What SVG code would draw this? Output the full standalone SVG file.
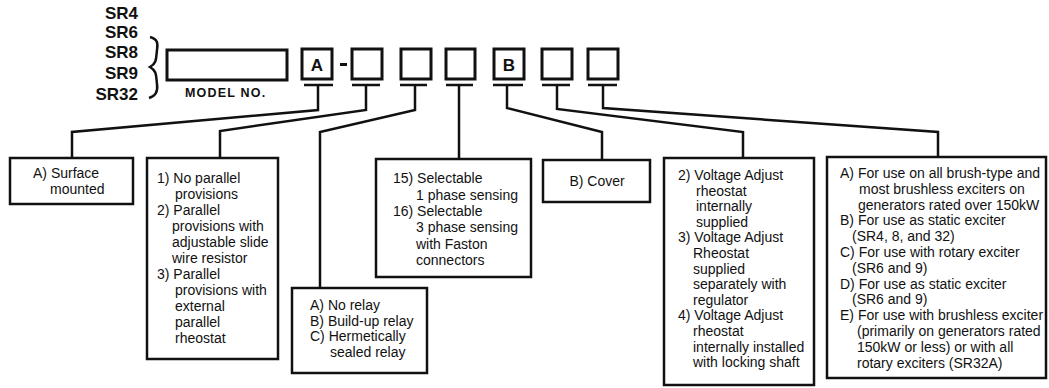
<svg xmlns="http://www.w3.org/2000/svg" width="1049" height="388" viewBox="0 0 1049 388">
<style>
  .bg{fill:#fff}
  .box{fill:#fff;stroke:#111;stroke-width:2.5}
  .sq{fill:#fff;stroke:#111;stroke-width:3}
  .ln{fill:none;stroke:#111;stroke-width:2.5;stroke-linejoin:miter}
  .t{font-family:"Liberation Sans",Arial,sans-serif;font-size:14px;fill:#111}
  .b{font-family:"Liberation Sans",Arial,sans-serif;font-weight:bold;fill:#111}
</style>
<rect class="bg" x="0" y="0" width="1049" height="388"/>

<g id="model-series">
  <text class="b" font-size="17" text-anchor="end" x="138" y="19">SR4</text>
  <text class="b" font-size="17" text-anchor="end" x="138" y="38">SR6</text>
  <text class="b" font-size="17" text-anchor="end" x="138" y="58">SR8</text>
  <text class="b" font-size="17" text-anchor="end" x="138" y="79">SR9</text>
  <text class="b" font-size="17" text-anchor="end" x="138" y="100">SR32</text>
  <path class="ln" d="M150,37 C158,39 158,44 157,50 C156,58 157,63 150,67 C157,71 156,76 157,84 C158,91 156,96 149,98"/>
</g>

<g id="model-no">
  <rect class="sq" x="167" y="50" width="120" height="30"/>
  <text class="b" font-size="12.5" letter-spacing="1.2" x="185" y="97">MODEL NO.</text>
</g>

<g id="codes">
  <rect class="sq" x="302" y="49" width="30" height="30"/>
  <text class="b" font-size="17" text-anchor="middle" x="317" y="71">A</text>
  <rect x="340" y="63" width="7" height="3" fill="#111"/>
  <rect class="sq" x="352" y="49" width="30" height="30"/>
  <rect class="sq" x="401" y="49" width="30" height="30"/>
  <rect class="sq" x="446" y="49" width="29" height="30"/>
  <rect class="sq" x="494" y="49" width="30" height="30"/>
  <text class="b" font-size="17" text-anchor="middle" x="509" y="71">B</text>
  <rect class="sq" x="542" y="49" width="30" height="30"/>
  <rect class="sq" x="588" y="49" width="30" height="30"/>
</g>

<g id="connectors">
  <path class="ln" d="M304,85 H333 M318,85 V110 L72,132 V158"/>
  <path class="ln" d="M352,85 H380 M366,85 V110 L220,131 V158"/>
  <path class="ln" d="M400,85 H427 M415,85 V110 L320,132 V288"/>
  <path class="ln" d="M446,85 H473 M459,85 V159"/>
  <path class="ln" d="M493,85 H523 M507,85 V108 L602,132 V160"/>
  <path class="ln" d="M542,85 H570 M557,85 V109 L743,132 V158"/>
  <path class="ln" d="M588,85 H617 M603,85 V108 L938,132 V157"/>
</g>

<g id="mounting">
  <rect class="box" x="10" y="158" width="123" height="46"/>
  <text class="t" x="33" y="178">A) Surface</text>
  <text class="t" x="50" y="194">mounted</text>
</g>

<g id="parallel">
  <rect class="box" x="147" y="158" width="131" height="201"/>
  <text class="t" x="157" y="183">1) No parallel</text>
  <text class="t" x="175" y="199">provisions</text>
  <text class="t" x="157" y="215">2) Parallel</text>
  <text class="t" x="172" y="231">provisions with</text>
  <text class="t" x="172" y="247">adjustable slide</text>
  <text class="t" x="172" y="263">wire resistor</text>
  <text class="t" x="157" y="279">3) Parallel</text>
  <text class="t" x="175" y="295">provisions with</text>
  <text class="t" x="175" y="311">external</text>
  <text class="t" x="175" y="327">parallel</text>
  <text class="t" x="175" y="343">rheostat</text>
</g>

<g id="relay">
  <rect class="box" x="292" y="288" width="135" height="85"/>
  <text class="t" x="310" y="310">A) No relay</text>
  <text class="t" x="310" y="325.5">B) Build-up relay</text>
  <text class="t" x="310" y="341">C) Hermetically</text>
  <text class="t" x="330" y="357">sealed relay</text>
</g>

<g id="sensing">
  <rect class="box" x="376" y="159" width="155" height="118"/>
  <text class="t" x="393" y="183">15) Selectable</text>
  <text class="t" x="416" y="199.5">1 phase sensing</text>
  <text class="t" x="393" y="216">16) Selectable</text>
  <text class="t" x="416" y="232">3 phase sensing</text>
  <text class="t" x="416" y="248.5">with Faston</text>
  <text class="t" x="416" y="265">connectors</text>
</g>

<g id="cover">
  <rect class="box" x="543" y="160" width="107" height="42"/>
  <text class="t" text-anchor="middle" x="597" y="186">B) Cover</text>
</g>

<g id="voltage-adjust">
  <rect class="box" x="664" y="158" width="150" height="227"/>
  <text class="t" x="678" y="180">2) Voltage Adjust</text>
  <text class="t" x="696" y="195.6">rheostat</text>
  <text class="t" x="696" y="211.2">internally</text>
  <text class="t" x="696" y="226.8">supplied</text>
  <text class="t" x="678" y="242.4">3) Voltage Adjust</text>
  <text class="t" x="693" y="258">Rheostat</text>
  <text class="t" x="693" y="273.6">supplied</text>
  <text class="t" x="693" y="289.2">separately with</text>
  <text class="t" x="693" y="304.8">regulator</text>
  <text class="t" x="678" y="320.4">4) Voltage Adjust</text>
  <text class="t" x="693" y="336">rheostat</text>
  <text class="t" x="693" y="351.6">internally installed</text>
  <text class="t" x="693" y="367.2">with locking shaft</text>
</g>

<g id="exciter">
  <rect class="box" x="827" y="157" width="219" height="221"/>
  <text class="t" x="840" y="178">A) For use on all brush-type and</text>
  <text class="t" x="859" y="193.8">most brushless exciters on</text>
  <text class="t" x="858" y="209.6">generators rated over 150kW</text>
  <text class="t" x="840" y="225.4">B) For use as static exciter</text>
  <text class="t" x="852" y="241.2">(SR4, 8, and 32)</text>
  <text class="t" x="840" y="257">C) For use with rotary exciter</text>
  <text class="t" x="852" y="272.8">(SR6 and 9)</text>
  <text class="t" x="840" y="288.6">D) For use as static exciter</text>
  <text class="t" x="852" y="304.4">(SR6 and 9)</text>
  <text class="t" x="840" y="320.2">E) For use with brushless exciter</text>
  <text class="t" x="857" y="336">(primarily on generators rated</text>
  <text class="t" x="857" y="351.8">150kW or less) or with all</text>
  <text class="t" x="857" y="367.6">rotary exciters (SR32A)</text>
</g>
</svg>
